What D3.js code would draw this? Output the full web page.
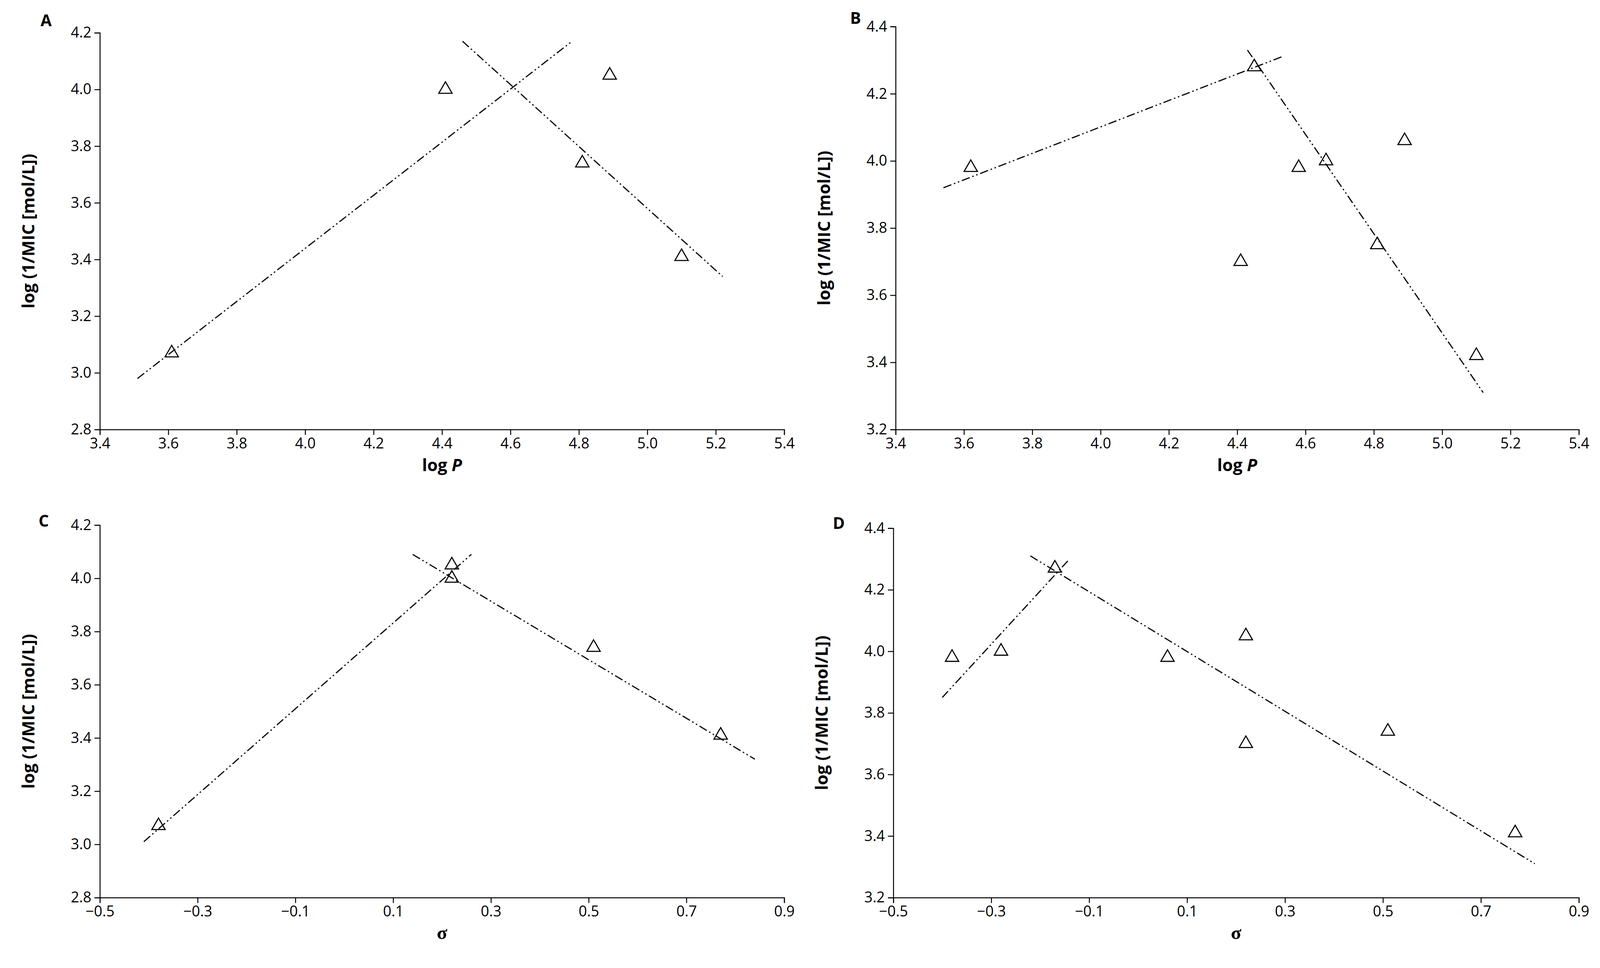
<!DOCTYPE html><html><head><meta charset="utf-8">
<script src="https://cdn.jsdelivr.net/npm/d3@7"></script>
<style>body{margin:0;background:#fff}</style></head><body>
<svg id="c" width="4148" height="2478"></svg>
<script>
const logPA=[3.61,4.41,4.81,4.89,5.10], micA=[3.07,4.00,3.74,4.05,3.41];
const logPB=[3.62,4.41,4.45,4.58,4.66,4.81,4.89,5.10], micB=[3.98,3.70,4.28,3.98,4.00,3.75,4.06,3.42];
const sigC=[-0.38,0.22,0.22,0.51,0.77], micC=[3.07,4.05,4.00,3.74,3.41];
const sigD=[-0.38,-0.28,-0.17,0.06,0.22,0.22,0.51,0.77], micD=[3.98,4.00,4.27,3.98,4.05,3.70,3.74,3.41];
const linesA=[[[3.51,2.98],[4.78,4.17]],[[4.46,4.17],[5.22,3.34]]];
const linesB=[[[3.54,3.92],[4.53,4.31]],[[4.43,4.33],[5.12,3.31]]];
const linesC=[[[-0.41,3.01],[0.26,4.09]],[[0.14,4.09],[0.84,3.32]]];
const linesD=[[[-0.40,3.85],[-0.14,4.30]],[[-0.22,4.31],[0.81,3.31]]];
const svg=d3.select("#c").append("g").attr("transform","scale(0.987)");
const F="'Open Sans',sans-serif";
function panel(o){
  const x=d3.scaleLinear().domain(o.xd).range([o.l,o.r]);
  const y=d3.scaleLinear().domain(o.yd).range([o.b,o.t]);
  const xa=svg.append("g").attr("transform",`translate(0,${o.b})`).call(d3.axisBottom(x).tickValues(d3.range(o.xd[0],o.xd[1]+1e-9,o.xs)).tickFormat(d3.format(".1f")).tickSizeOuter(0).tickSize(14).tickPadding(8));
  const ya=svg.append("g").attr("transform",`translate(${o.l},0)`).call(d3.axisLeft(y).tickValues(d3.range(o.yd[0],o.yd[1]+1e-9,0.2)).tickFormat(d3.format(".1f")).tickSizeOuter(0).tickSize(14).tickPadding(8));
  [xa,ya].forEach(a=>{a.selectAll("text").attr("font-family",F).attr("font-size",38).attr("fill","#000");a.selectAll("line,path").attr("stroke","#000").attr("stroke-width",2.5);});
  o.lines.forEach(s=>svg.append("line").attr("x1",x(s[0][0])).attr("y1",y(s[0][1])).attr("x2",x(s[1][0])).attr("y2",y(s[1][1])).attr("stroke","#000").attr("stroke-width",3).attr("stroke-dasharray","22,7,4,7,4,7"));
  const tri=d3.symbol().type(d3.symbolTriangle).size(520);
  o.xs_.forEach((v,i)=>svg.append("path").attr("d",tri()).attr("transform",`translate(${x(v)},${y(o.ys_[i])})`).attr("fill","none").attr("stroke","#000").attr("stroke-width",2.8));
  svg.append("text").attr("x",o.lx).attr("y",o.ly).text(o.letter).attr("font-family",F).attr("font-weight","bold").attr("font-size",42);
  svg.append("text").attr("transform",`translate(${o.l-170},${(o.t+o.b)/2}) rotate(-90)`).attr("text-anchor","middle").attr("font-family",F).attr("font-weight","bold").attr("font-size",44).text("log (1/MIC [mol/L])");
  const xt=svg.append("text").attr("x",(o.l+o.r)/2).attr("y",o.b+108).attr("text-anchor","middle").attr("font-family",o.sig?"'Liberation Serif',serif":F).attr("font-weight","bold").attr("font-size",o.sig?50:44);
  if(o.sig) xt.text("σ"); else {xt.append("tspan").text("log ");xt.append("tspan").attr("font-style","italic").text("P");}
}
panel({l:259,r:2034,t:85,b:1114,xd:[3.4,5.4],xs:0.2,yd:[2.8,4.2],xs_:logPA,ys_:micA,lines:linesA,letter:"A",lx:105,ly:68});
panel({l:2323,r:4095,t:69,b:1114,xd:[3.4,5.4],xs:0.2,yd:[3.2,4.4],xs_:logPB,ys_:micB,lines:linesB,letter:"B",lx:2205,ly:62});
panel({l:259,r:2034,t:1362,b:2328,xd:[-0.5,0.9],xs:0.2,yd:[2.8,4.2],xs_:sigC,ys_:micC,lines:linesC,letter:"C",lx:100,ly:1366,sig:true});
panel({l:2317,r:4095,t:1370,b:2328,xd:[-0.5,0.9],xs:0.2,yd:[3.2,4.4],xs_:sigD,ys_:micD,lines:linesD,letter:"D",lx:2160,ly:1372,sig:true});
</script></body></html>
